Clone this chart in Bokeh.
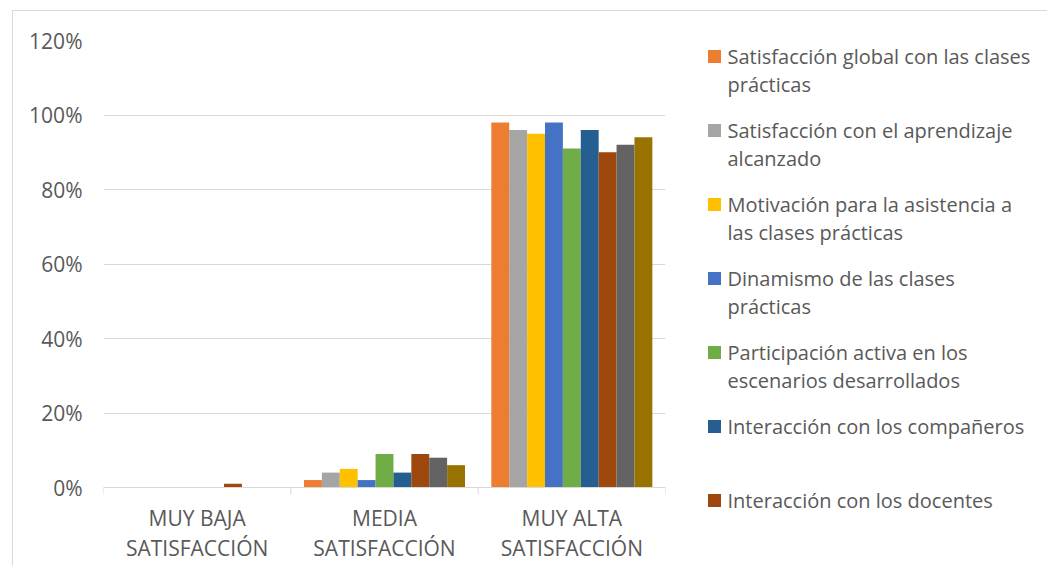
from bokeh.plotting import figure
from bokeh.models import Range1d, FixedTicker, NumeralTickFormatter
from bokeh.layouts import row
from bokeh.embed import file_html
from bokeh.resources import INLINE
from bokeh.core.properties import value

# ---- data ----
cat_line1 = ["MUY BAJA", "MEDIA", "MUY ALTA"]
cat_line2 = ["SATISFACCIÓN", "SATISFACCIÓN", "SATISFACCIÓN"]

series_names = [
    "Satisfacción global con las clases\nprácticas",
    "Satisfacción con el aprendizaje\nalcanzado",
    "Motivación para la asistencia a\nlas clases prácticas",
    "Dinamismo de las clases\nprácticas",
    "Participación activa en los\nescenarios desarrollados",
    "Interacción con los compañeros",
    "Interacción con los docentes",
]
colors = ["#ED7D31", "#A5A5A5", "#FFC000", "#4472C4", "#70AD47",
          "#255E91", "#9E480E", "#636363", "#997300"]

s1 = [0, 2, 98]
s2 = [0, 4, 96]
s3 = [0, 5, 95]
s4 = [0, 2, 98]
s5 = [0, 9, 91]
s6 = [0, 4, 96]
s7 = [1, 9, 90]
s8 = [0, 8, 92]
s9 = [0, 6, 94]
series = [s1, s2, s3, s4, s5, s6, s7, s8, s9]

y_ticks = [0, 0.2, 0.4, 0.6, 0.8, 1.0, 1.2]

FONT = "Open Sans"
TXT = "#595959"
GRID = "#d9d9d9"

# ---- geometry (page pixels) ----
OX, OY = 13, 11            # content origin inside the bordered box
FRAME_L, FRAME_R = 103, 665
FRAME_T, ZERO_Y, BOTTOM = 40, 487, 566
LEG_R = 1047

k = (ZERO_Y - FRAME_T) / max(y_ticks)          # px per unit
y_min = -(BOTTOM - ZERO_Y) / k

# ---- main chart ----
p = figure(width=FRAME_R + 12 - OX, height=BOTTOM - OY,
           output_backend="svg", toolbar_location=None, title=None,
           x_range=Range1d(0, len(cat_line1)), y_range=Range1d(y_min, max(y_ticks)),
           min_border_left=FRAME_L - OX, min_border_right=12,
           min_border_top=FRAME_T - OY, min_border_bottom=0,
           x_axis_location=None)
p.outline_line_color = None
p.xgrid.visible = False
p.ygrid.grid_line_color = GRID
p.ygrid.grid_line_width = 1
p.ygrid.ticker = FixedTicker(ticks=y_ticks)

yax = p.yaxis[0]
yax.ticker = FixedTicker(ticks=y_ticks)
yax.formatter = NumeralTickFormatter(format="0%")
yax.axis_line_color = None
yax.major_tick_line_color = None
yax.minor_tick_line_color = None
yax.major_label_text_font = FONT
yax.major_label_text_font_size = "21px"
yax.major_label_text_color = TXT
yax.major_label_standoff = 15

n = len(series)
bw = 0.0955
for s, vals in enumerate(series):
    xs = [i + 0.5 + (s - (n - 1) / 2) * bw for i in range(len(cat_line1))]
    p.vbar(x=xs, top=[v / 100 for v in vals], width=bw, bottom=0,
           fill_color=colors[s], line_color=None)

# category axis: baseline, boundary ticks and two-line labels
ncat = len(cat_line1)
p.segment(x0=[0], y0=[0], x1=[ncat], y1=[0], line_color=GRID, line_width=1)
bounds = list(range(ncat + 1))
p.segment(x0=bounds, y0=[0] * len(bounds), x1=bounds,
          y1=[-7 / k] * len(bounds), line_color=GRID, line_width=1)
centers = [i + 0.5 for i in range(ncat)]
p.text(x=centers, y=[-30 / k] * ncat, text=cat_line1, text_font=value(FONT),
       text_font_size="21px", text_color=TXT, text_align="center",
       text_baseline="middle")
p.text(x=centers, y=[-60 / k] * ncat, text=cat_line2, text_font=value(FONT),
       text_font_size="21px", text_color=TXT, text_align="center",
       text_baseline="middle")

# ---- legend panel (data units = page pixels) ----
lf = figure(width=LEG_R - (FRAME_R + 12), height=BOTTOM - OY,
            output_backend="svg", toolbar_location=None, title=None,
            x_range=Range1d(FRAME_R + 12, LEG_R), y_range=Range1d(BOTTOM, FRAME_T),
            min_border=0)
lf.axis.visible = False
lf.grid.visible = False
lf.outline_line_color = None

sq_x, sq_y, sq_c = [], [], []
tx, ty, tt = [], [], []
for i, name in enumerate(series_names):
    y0 = 56 + 74 * i
    sq_x.append(714)
    sq_y.append(y0)
    sq_c.append(colors[i])
    for j, line in enumerate(name.split("\n")):
        tx.append(727)
        ty.append(y0 + 28 * j)
        tt.append(line)
lf.scatter(x=sq_x, y=sq_y, marker="square", size=13, fill_color=sq_c, line_color=None)
lf.text(x=tx, y=ty, text=tt, text_font=value(FONT), text_font_size="20px",
        text_color=TXT, text_baseline="middle", text_align="left")

layout = row(p, lf, spacing=0,
             styles={"margin-left": "12px", "margin-top": "10px",
                     "border-left": "1px solid #d9d9d9",
                     "border-top": "1px solid #d9d9d9"})

open("out.html", "w").write(file_html(layout, INLINE))
